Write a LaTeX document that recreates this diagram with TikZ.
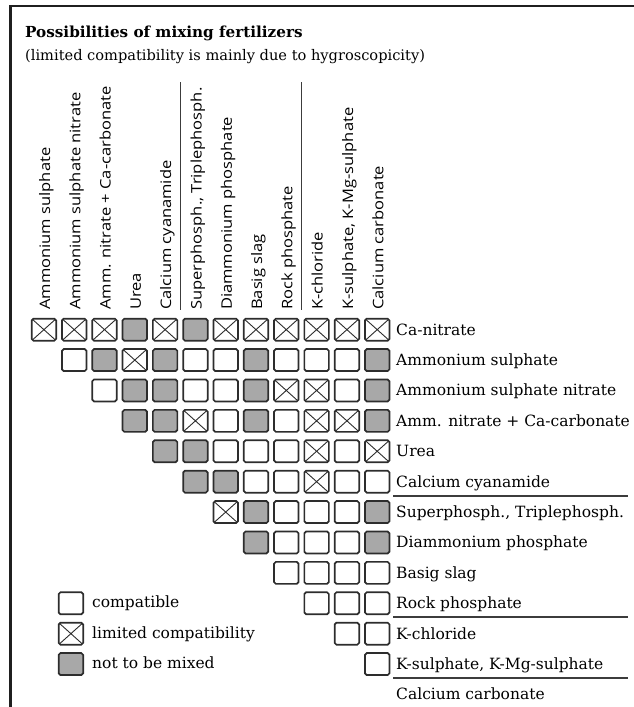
\documentclass[tikz,border=0pt]{standalone}
\usepackage{fontspec}
\setmainfont{DejaVu Serif}
\newfontfamily\hdrfont[FakeStretch=1.14]{Open Sans}
\definecolor{cellline}{RGB}{45,45,45}
\definecolor{mixgray}{RGB}{168,168,168}
\definecolor{rulecol}{RGB}{60,60,60}
\begin{document}
\begin{tikzpicture}[x=1pt,y=-1pt,
  cellbox/.style={draw=cellline, line width=1.7pt, rounded corners=1.8pt,
    minimum width=24.5pt, minimum height=22pt, inner sep=0pt, anchor=north west},
  ok/.style={cellbox, fill=white},
  lim/.style={cellbox, fill=white, path picture={
    \draw[cellline, line width=0.9pt]
      (path picture bounding box.north west) -- (path picture bounding box.south east)
      (path picture bounding box.north east) -- (path picture bounding box.south west);}},
  mix/.style={cellbox, fill=mixgray},
  rowlabel/.style={anchor=base west, inner sep=0pt, font=\fontsize{15.5}{18}\selectfont},
  collabel/.style={anchor=base west, rotate=90, inner sep=0pt, font=\hdrfont\fontsize{14.5}{17}\selectfont},
  seprule/.style={draw=rulecol, line width=1.4pt},
  framerule/.style={draw=black!88, line width=2.3pt}
]
\useasboundingbox (0,0) rectangle (634,707);
% frame
\draw[framerule] (10.5,707) -- (10.5,6.2) -- (634,6.2);
% title
\node[anchor=base west, inner sep=0pt, font=\bfseries\fontsize{15.2}{18}\selectfont] (title) at (25,37) {Possibilities of mixing fertilizers};
\node[anchor=base west, inner sep=0pt, font=\fontsize{14.6}{17}\selectfont] (subtitle) at (25,60) {(limited compatibility is mainly due to hygroscopicity)};
% column labels
\foreach \t [count=\k] in {Ammonium sulphate, Ammonium sulphate nitrate, Amm. nitrate + Ca-carbonate, Urea, Calcium cyanamide, {Superphosph., Triplephosph.}, Diammonium phosphate, Basig slag, Rock phosphate, K-chloride, {K-sulphate, K-Mg-sulphate}, Calcium carbonate}{
  \pgfmathsetmacro\xx{30+30.3*(\k-1)+20}
  \node[collabel] (h\k) at (\xx,310) {\t};
}
% vertical separators
\draw[seprule] (180.5,82) -- (180.5,310);
\draw[seprule] (301.5,82) -- (301.5,310);
% row labels
\foreach \t [count=\k] in {Ca-nitrate, Ammonium sulphate, Ammonium sulphate nitrate, Amm. nitrate + Ca-carbonate, Urea, Calcium cyanamide, {Superphosph., Triplephosph.}, Diammonium phosphate, Basig slag, Rock phosphate, K-chloride, {K-sulphate, K-Mg-sulphate}, Calcium carbonate}{
  \pgfmathsetmacro\yy{317+30.4*(\k-1)+18}
  \node[rowlabel] (r\k) at (396,\yy) {\t};
}
% horizontal separators
\draw[seprule] (393,496) -- (628,496);
\draw[seprule] (393,617) -- (628,617);
\draw[seprule] (393,678) -- (628,678);
% cells
\foreach \r/\codes in {
  1/{lim,lim,lim,mix,lim,mix,lim,lim,lim,lim,lim,lim},
  2/{ok,mix,lim,mix,ok,ok,mix,ok,ok,ok,mix},
  3/{ok,mix,mix,ok,ok,mix,lim,lim,ok,mix},
  4/{mix,mix,lim,ok,mix,ok,lim,lim,mix},
  5/{mix,mix,ok,ok,ok,lim,ok,lim},
  6/{mix,mix,ok,ok,lim,ok,ok},
  7/{lim,mix,ok,ok,ok,mix},
  8/{mix,ok,ok,ok,mix},
  9/{ok,ok,ok,ok},
  10/{ok,ok,ok},
  11/{ok,ok},
  12/{ok}}{
  \foreach \s [count=\k] in \codes {
    \pgfmathtruncatemacro\cc{\r+\k-1}
    \pgfmathsetmacro\xx{30+30.3*(\cc-1)+0.8}
    \pgfmathsetmacro\yy{317+30.4*(\r-1)+0.8}
    \node[\s] (c\r-\cc) at (\xx,\yy) {};
  }
}
% legend
\node[ok]  (leg1) at (57.8,591.4) {};
\node[lim] (leg2) at (57.8,621.8) {};
\node[mix] (leg3) at (57.8,652.2) {};
\node[rowlabel] (lt1) at (92,607.6) {compatible};
\node[rowlabel] (lt2) at (92,638) {limited compatibility};
\node[rowlabel] (lt3) at (92,668.4) {not to be mixed};
\end{tikzpicture}
\end{document}
